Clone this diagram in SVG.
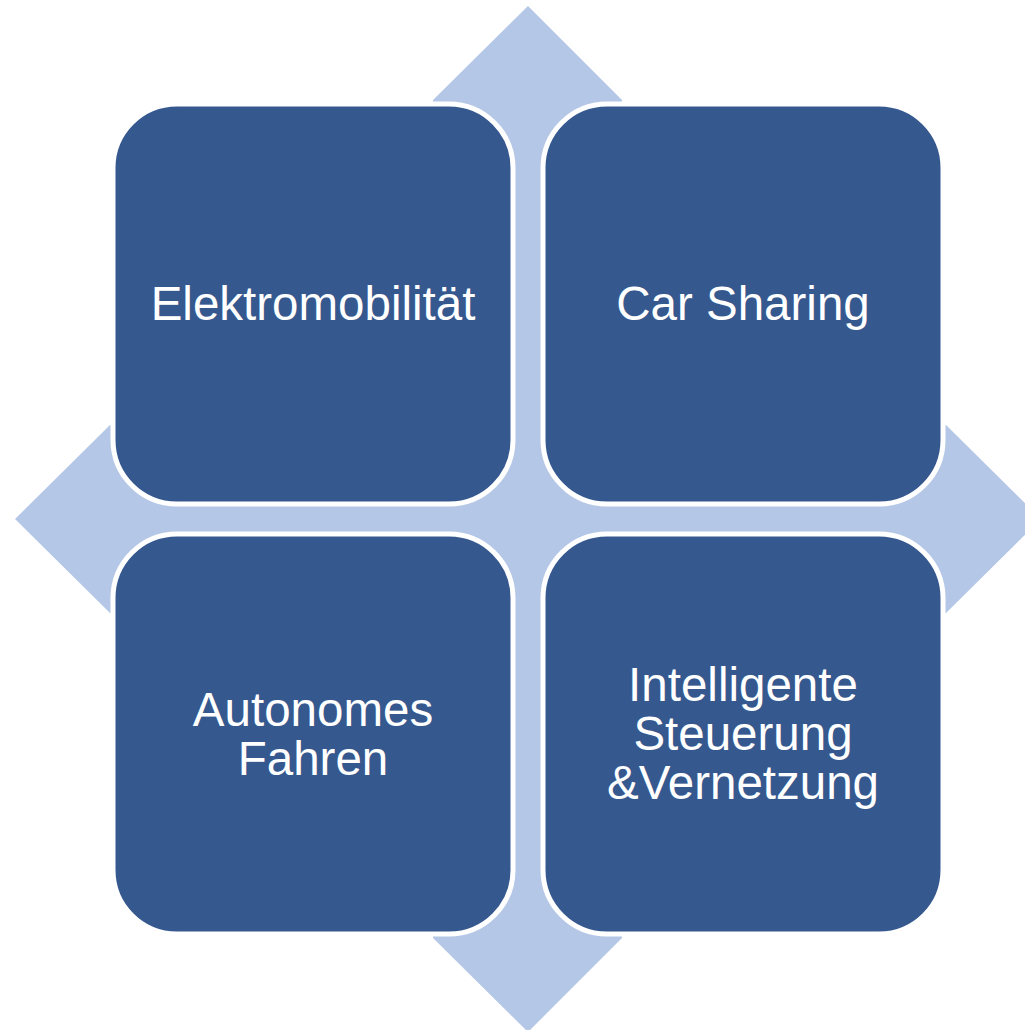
<svg xmlns="http://www.w3.org/2000/svg" width="1025" height="1030" viewBox="0 0 1025 1030">
<style>
.box{fill:#35588F;stroke:#FFFFFF;stroke-width:5}
.lbl{font-family:"Liberation Sans",Arial,sans-serif;font-size:47.5px;fill:#FFFFFF;text-anchor:middle}
</style>
<rect width="1025" height="1030" fill="#FFFFFF"/>
<g id="background-arrows">
<polygon fill="#B4C7E7" points="528,6 622,100 622,425 946,425 1041,519 946,613 622,613 622,938 528,1032 433,938 433,613 110,613 15,519 110,425 433,425 433,100"/>
</g>
<g id="connectors"></g>
<g id="node-elektromobilitaet">
<rect class="box" x="113" y="104" width="400" height="400" rx="64" ry="64"/>
<text class="lbl" x="313" y="320">Elektromobilität</text>
</g>
<g id="node-car-sharing">
<rect class="box" x="543" y="104" width="400" height="400" rx="64" ry="64"/>
<text class="lbl" x="743" y="320">Car Sharing</text>
</g>
<g id="node-autonomes-fahren">
<rect class="box" x="113" y="534" width="400" height="400" rx="64" ry="64"/>
<text class="lbl" x="313" y="726">Autonomes</text>
<text class="lbl" x="313" y="775">Fahren</text>
</g>
<g id="node-intelligente-steuerung">
<rect class="box" x="543" y="534" width="400" height="400" rx="64" ry="64"/>
<text class="lbl" x="743" y="701">Intelligente</text>
<text class="lbl" x="743" y="750">Steuerung</text>
<text class="lbl" x="743" y="799">&amp;Vernetzung</text>
</g>
</svg>
